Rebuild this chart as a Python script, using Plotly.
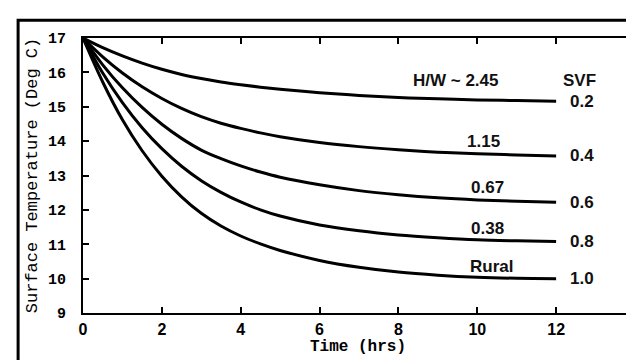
import plotly.graph_objects as go

# Time (hrs)
time_hrs = [0, 0.5, 1, 1.5, 2, 2.5, 3, 3.5, 4, 4.5, 5, 6, 7, 8, 9, 10, 11, 12]

# Surface temperature (Deg C) by sky view factor
svf_02 = [17, 16.72, 16.48, 16.27, 16.09, 15.94, 15.82, 15.72, 15.64, 15.57, 15.51, 15.41, 15.33, 15.27, 15.23, 15.20, 15.18, 15.16]
svf_04 = [17, 16.45, 15.98, 15.58, 15.24, 14.95, 14.71, 14.52, 14.37, 14.24, 14.13, 13.96, 13.84, 13.75, 13.68, 13.63, 13.60, 13.57]
svf_06 = [17, 16.22, 15.55, 14.98, 14.49, 14.08, 13.74, 13.49, 13.28, 13.10, 12.95, 12.73, 12.56, 12.44, 12.35, 12.29, 12.25, 12.22]
svf_08 = [17, 15.98, 15.12, 14.39, 13.78, 13.27, 12.85, 12.51, 12.23, 12.00, 11.82, 11.56, 11.39, 11.27, 11.19, 11.13, 11.10, 11.08]
svf_10 = [17, 15.72, 14.62, 13.72, 12.98, 12.38, 11.90, 11.53, 11.24, 11.01, 10.82, 10.53, 10.33, 10.19, 10.10, 10.04, 10.01, 10.00]

series = [svf_02, svf_04, svf_06, svf_08, svf_10]
svf_labels = ["0.2", "0.4", "0.6", "0.8", "1.0"]
hw_labels = ["H/W ~ 2.45", "1.15", "0.67", "0.38", "Rural"]
hw_label_y = [15.75, 14.0, 12.65, 11.45, 10.35]
hw_label_x = [9.45, 10.15, 10.25, 10.25, 10.35]

x_ticks = [0, 2, 4, 6, 8, 10, 12]
y_ticks = [9, 10, 11, 12, 13, 14, 15, 16, 17]

fig = go.Figure()
for vals in series:
    fig.add_trace(go.Scatter(
        x=time_hrs, y=vals, mode="lines",
        line=dict(color="black", width=3, shape="spline", smoothing=1.0),
        showlegend=False, hoverinfo="skip"))

label_font = dict(family="Liberation Sans, Arial, sans-serif", size=17, color="#111", weight="bold")
for txt, xv, yv in zip(hw_labels, hw_label_x, hw_label_y):
    fig.add_annotation(x=xv, y=yv, text=txt, showarrow=False, font=label_font,
                       xanchor="center", yanchor="middle")
for txt, vals in zip(svf_labels, series):
    fig.add_annotation(x=12.65, y=vals[-1], text=txt, showarrow=False, font=label_font,
                       xanchor="center", yanchor="middle")
fig.add_annotation(x=12.6, y=15.75, text="SVF", showarrow=False, font=label_font,
                   xanchor="center", yanchor="middle")

# outer frame (only top/left visible in the original)
fig.add_shape(type="rect", xref="paper", yref="paper",
              x0=-0.118, x1=1.2, y0=-0.3, y1=1.065,
              line=dict(color="black", width=3), layer="above")

mono = "Liberation Mono, Courier New, monospace"
fig.update_layout(
    width=634, height=360,
    margin=dict(l=75, r=7, t=30, b=55),
    paper_bgcolor="white", plot_bgcolor="white",
    xaxis=dict(range=[0, 13.95], tickvals=x_ticks, ticktext=[str(v) for v in x_ticks],
               ticks="inside", ticklen=6, tickwidth=1.5, tickcolor="black",
               showline=True, linecolor="black", linewidth=2, mirror="allticks",
               showgrid=False, zeroline=False, ticklabelstandoff=1,
               tickfont=dict(family="Liberation Sans, Arial", size=16, color="black", weight="bold"),
               title=dict(text="Time (hrs)", font=dict(family=mono, size=16, color="black", weight="bold"),
                          standoff=0)),
    yaxis=dict(range=[9, 17], tickvals=y_ticks, ticktext=[str(v) for v in y_ticks],
               ticks="inside", ticklen=6, tickwidth=1.5, tickcolor="black",
               showline=True, linecolor="black", linewidth=2, mirror="allticks",
               showgrid=False, zeroline=False, ticklabelstandoff=12,
               tickfont=dict(family=mono, size=15, color="black", weight="bold"),
               title=dict(text="Surface Temperature (Deg C)",
                          font=dict(family=mono, size=17, color="black"), standoff=6)),
)

fig.write_html("out.html")
